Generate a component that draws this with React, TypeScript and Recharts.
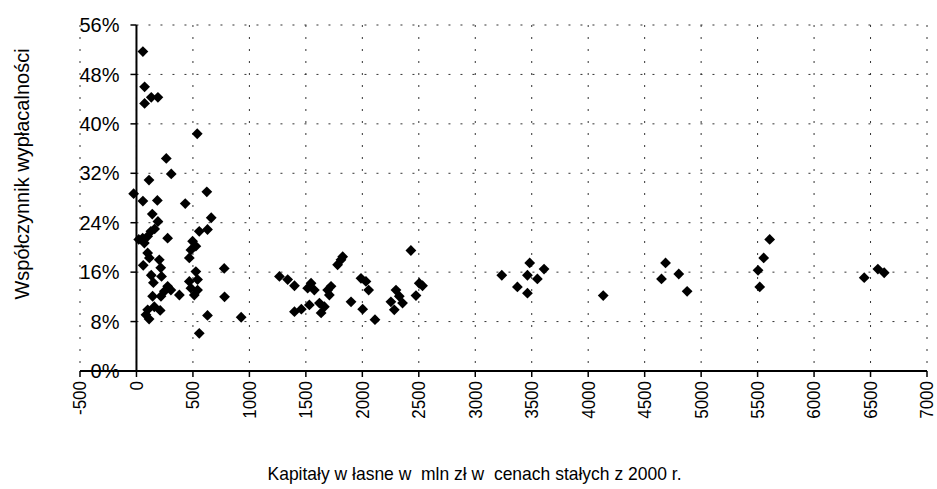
import React from 'react';
import { ScatterChart, Scatter, XAxis, YAxis, CartesianGrid, ReferenceLine } from 'recharts';

// Kapitały własne (mln zł) vs współczynnik wypłacalności (%)
const smallFirms: [number, number][] = [
  [57, 51.7], [72, 46.0], [72, 43.3], [131, 44.3], [190, 44.3], [538, 38.4], [264, 34.4], [308, 31.9],
  [111, 30.9], [623, 29.0], [-25, 28.7], [57, 27.5], [185, 27.6], [432, 27.1], [140, 25.4], [662, 24.8],
  [190, 24.2], [161, 23.0], [128, 22.6], [99, 21.8], [55, 21.5], [20, 21.3], [70, 20.7], [276, 21.5],
  [556, 22.6], [629, 22.9], [497, 21.0], [526, 20.2], [482, 19.6], [468, 18.3], [99, 19.1], [114, 18.3],
  [202, 18.0], [60, 17.1], [215, 16.7], [777, 16.6], [131, 15.5], [222, 15.3], [526, 16.1], [541, 14.8],
  [468, 14.5], [150, 14.3], [276, 13.7], [305, 13.1], [247, 12.9], [217, 12.1], [380, 12.3], [482, 13.4],
  [541, 13.1], [512, 12.3], [143, 12.1], [780, 12.0], [158, 10.4], [210, 9.8], [99, 9.9], [84, 9.1],
  [112, 8.4], [629, 9.0], [556, 6.1], [927, 8.7],
];
const mediumFirms: [number, number][] = [
  [1266, 15.3], [1339, 14.8], [1399, 13.8], [1399, 9.6], [1460, 10.0], [1531, 10.7], [1546, 14.2],
  [1575, 13.1], [1516, 13.4], [1635, 9.4], [1620, 11.0], [1664, 10.4], [1693, 13.1], [1723, 13.7],
  [1708, 12.3], [1781, 17.2], [1811, 18.0], [1826, 18.5], [1900, 11.2], [1988, 15.0], [2032, 14.5],
  [2056, 13.1], [2003, 10.0], [2112, 8.3], [2253, 11.2], [2298, 13.1], [2327, 12.1], [2356, 11.0],
  [2283, 9.9], [2430, 19.5], [2475, 12.2], [2504, 14.2], [2533, 13.8],
];
const largeFirms: [number, number][] = [
  [3235, 15.5], [3373, 13.6], [3462, 12.6], [3462, 15.5], [3482, 17.5], [3550, 14.9], [3609, 16.5],
  [4133, 12.2], [4649, 14.9], [4685, 17.5], [4802, 15.7], [4876, 12.9], [5504, 16.3], [5519, 13.6],
  [5554, 18.3], [5607, 21.3], [6444, 15.1], [6565, 16.5], [6621, 15.9],
];

const xTicks = [-500, 0, 500, 1000, 1500, 2000, 2500, 3000, 3500, 4000, 4500, 5000, 5500, 6000, 6500, 7000];
const yTicks = [0, 8, 16, 24, 32, 40, 48, 56];
const xTitle = 'Kapitały w łasne w  mln zł w  cenach stałych z 2000 r.';
const yTitle = 'Współczynnik wypłacalności';

const points = [...smallFirms, ...mediumFirms, ...largeFirms].map(([x, y]) => ({ x, y }));

const W = 937;
const H = 489;
const MARGIN = { top: 25, right: 10, bottom: 8, left: 0 };
const Y_AXIS_W = 80;
const X_AXIS_H = 110;
const X_MIN = -500;
const X_MAX = 7000;
const plotLeft = MARGIN.left + Y_AXIS_W;
const plotW = W - MARGIN.right - plotLeft;
const axisX = plotLeft + (plotW * (0 - X_MIN)) / (X_MAX - X_MIN);
const FONT = '"Liberation Sans", Arial, sans-serif';
const GRID = '#333';

const Diamond = (props: any) => {
  const { cx, cy } = props;
  const r = 5.4;
  return <polygon points={`${cx},${cy - r} ${cx + r},${cy} ${cx},${cy + r} ${cx - r},${cy}`} fill="#000" />;
};

const XTick = (props: any) => {
  const { x, y, payload } = props;
  return (
    <g transform={`translate(${x} ${y}) rotate(-90) scale(1 1.05)`}>
      <text x={0} y={0} textAnchor="end" dy="0.36em" fontSize={17} fontFamily={FONT} fill="#000">
        {payload.value}
      </text>
    </g>
  );
};

const YTick = (props: any) => {
  const { y, payload } = props;
  return (
    <g>
      <line x1={axisX - 6} x2={axisX} y1={y} y2={y} stroke="#000" strokeWidth={1.5} />
      <text x={axisX - 17} y={y} textAnchor="end" dy="0.36em" fontSize={20} fontFamily={FONT} fill="#000">
        {`${payload.value}%`}
      </text>
    </g>
  );
};

export default function App() {
  return (
    <div style={{ position: 'absolute', left: 0, top: 0, width: W, height: H, background: '#fff' }}>
      <ScatterChart width={W} height={H} margin={MARGIN}>
        <CartesianGrid horizontal={false} stroke={GRID} strokeDasharray="2 10" />
        {yTicks.filter((v) => v > 0).map((v) => (
          <ReferenceLine key={v} segment={[{ x: 0, y: v }, { x: X_MAX, y: v }]} stroke={GRID} strokeDasharray="2 10" />
        ))}
        <XAxis type="number" dataKey="x" domain={[X_MIN, X_MAX]} ticks={xTicks} interval={0}
          height={X_AXIS_H} tickSize={6} tickMargin={4} tick={<XTick />}
          axisLine={{ stroke: '#000', strokeWidth: 2 }} tickLine={{ stroke: '#000', strokeWidth: 1.5 }}
          allowDataOverflow
          label={{
            content: () => (
              <text x={W / 2 + 6} y={480} textAnchor="middle" fontSize={19} fontFamily={FONT} fill="#000"
                textLength={414} lengthAdjust="spacingAndGlyphs" style={{ whiteSpace: 'pre' }}>
                {xTitle}
              </text>
            ),
          }}
        />
        <YAxis type="number" dataKey="y" domain={[0, 56]} ticks={yTicks} interval={0} width={Y_AXIS_W}
          axisLine={false} tickLine={false} tick={<YTick />}
          label={{
            content: () => (
              <text x={22} y={174} transform={`rotate(-90 22 174)`} textAnchor="middle" dy="0.36em"
                fontSize={20} fontFamily={FONT} fill="#000">
                {yTitle}
              </text>
            ),
          }}
        />
        <ReferenceLine x={0} stroke="#000" strokeWidth={2} />
        <Scatter data={points} shape={<Diamond />} isAnimationActive={false} />
      </ScatterChart>
    </div>
  );
}
